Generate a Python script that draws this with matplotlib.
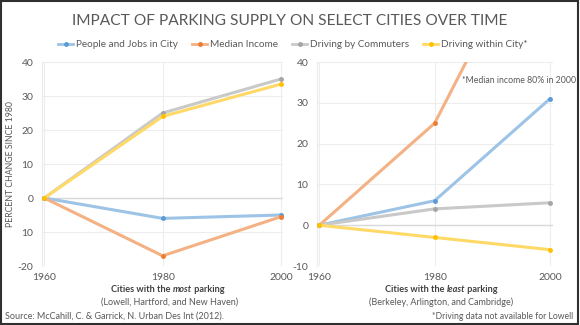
import matplotlib
matplotlib.use("Agg")
import matplotlib.pyplot as plt
from matplotlib.patches import Rectangle

plt.rcParams['font.family'] = ['Lato', 'DejaVu Sans']

# datos
years = [1960, 1980, 2000]
series_names = ["People and Jobs in City", "Median Income", "Driving by Commuters", "Driving within City*"]

# ciudades con mas estacionamiento
most_people = [0, -6, -5]
most_income = [0, -17, -5.5]
most_commuters = [0, 25, 35]
most_within = [0, 24, 33.5]

# ciudades con menos estacionamiento
least_people = [0, 6, 31]
least_income = [0, 25, 80]
least_commuters = [0, 4, 5.5]
least_within = [0, -3, -6]

left_yticks = [-20, -10, 0, 10, 20, 30, 40]
left_ylabels = ["-20", "10", "0", "10", "20", "30", "40"]
right_yticks = [-10, 0, 10, 20, 30, 40]

line_colors = ["#9DC3E6", "#F4B183", "#C9C9C9", "#FFD966"]
marker_colors = ["#5B9BD5", "#ED7D31", "#A5A5A5", "#FFC000"]
text_color = "#595959"

fig = plt.figure(figsize=(5.8, 3.25), dpi=100)
W, H = 580, 325

def px_axes(x0, y0, x1, y1):
    return fig.add_axes([x0 / W, 1 - y1 / H, (x1 - x0) / W, (y1 - y0) / H])

ax1 = px_axes(41.7, 62, 283, 266)
ax2 = px_axes(316.7, 62, 553, 266)

def style_axis(ax, yticks, ylabels, ylim, xlim):
    ax.set_xlim(*xlim)
    ax.set_ylim(*ylim)
    ax.set_yticks(yticks)
    ax.set_yticklabels(ylabels)
    ax.set_xticks(years)
    ax.set_xticklabels([str(y) for y in years])
    for s in ["top", "right", "bottom"]:
        ax.spines[s].set_visible(False)
    ax.spines["left"].set_color("#EAEAEA")
    ax.spines["left"].set_linewidth(0.8)
    ax.grid(True, color="#EDEDED", linewidth=0.8)
    ax.axhline(0, color="#D9D9D9", linewidth=1, zorder=1)
    ax.tick_params(length=0, labelsize=7.5, labelcolor=text_color)
    ax.tick_params(axis="x", pad=5)
    ax.tick_params(axis="y", pad=6)
    ax.set_axisbelow(True)

style_axis(ax1, left_yticks, left_ylabels, (-20, 40), (1959.56, 2000.34))
style_axis(ax2, right_yticks, [str(t) for t in right_yticks], (-10, 40), (1959.55, 2000.52))

left_data = [most_people, most_income, most_commuters, most_within]
right_data = [least_people, least_income, least_commuters, least_within]

for ax, data in [(ax1, left_data), (ax2, right_data)]:
    for i, vals in enumerate(data):
        ax.plot(years, vals, color=line_colors[i], linewidth=2.2, solid_capstyle="round",
                marker="o", markersize=2.5, markerfacecolor=marker_colors[i],
                markeredgecolor=marker_colors[i], zorder=3)

ax1.set_ylabel("PERCENT CHANGE SINCE 1980", fontsize=6.3, color=text_color)
ax1.yaxis.set_label_coords(-0.11, 0.5)

fig.text(576 / W, 1 - 80.7 / H, "*Median income 80% in 2000",
         fontsize=6.3, color=text_color, va="center", ha="right")

# titulo y leyenda
fig.text(290 / W, 1 - 21 / H, "IMPACT OF PARKING SUPPLY ON SELECT CITIES OVER TIME",
         ha="center", va="center", fontsize=11.2, color=text_color)

handles = []
for i, name in enumerate(series_names):
    h, = ax1.plot([], [], color=line_colors[i], linewidth=2, marker="o", markersize=2.5,
                  markerfacecolor=marker_colors[i], markeredgecolor=marker_colors[i])
    handles.append(h)
fig.legend(handles, series_names, loc="center", bbox_to_anchor=(293 / W, 1 - 44.5 / H),
           ncol=4, frameon=False, fontsize=7.2, labelcolor=text_color,
           handlelength=1.5, handletextpad=0.3, columnspacing=1.4)

# etiquetas con negrita/cursiva mezcladas
def mixed_label(xc, y, parts):
    fig.canvas.draw()
    r = fig.canvas.get_renderer()
    objs = []
    total = 0
    for txt, style in parts:
        t = fig.text(0, 1 - y / H, txt, fontsize=6.6, weight="bold", style=style,
                     color="#404040", va="center", ha="left")
        w = t.get_window_extent(renderer=r).width
        objs.append((t, w))
        total += w
    x = xc - total / 2
    for t, w in objs:
        t.set_x(x / W)
        x += w

mixed_label(168, 290, [("Cities with the ", "normal"), ("most", "italic"), (" parking", "normal")])
mixed_label(441, 290, [("Cities with the ", "normal"), ("least", "italic"), (" parking", "normal")])

fig.text(170 / W, 1 - 302 / H, "(Lowell, Hartford, and New Haven)", ha="center", va="center",
         fontsize=6.5, color=text_color)
fig.text(441 / W, 1 - 302 / H, "(Berkeley, Arlington, and Cambridge)", ha="center", va="center",
         fontsize=6.5, color=text_color)
fig.text(5 / W, 1 - 316.5 / H, "Source: McCahill, C. & Garrick, N. Urban Des Int (2012).",
         ha="left", va="center", fontsize=6.5, color=text_color)
fig.text(573 / W, 1 - 316.5 / H, "*Driving data not available for Lowell",
         ha="right", va="center", fontsize=6.2, color=text_color)

fig.patches.append(Rectangle((0.002, 0.004), 0.995, 0.992, transform=fig.transFigure,
                             fill=False, edgecolor="#303030", linewidth=1.5))

fig.savefig("out.png", dpi=100)
